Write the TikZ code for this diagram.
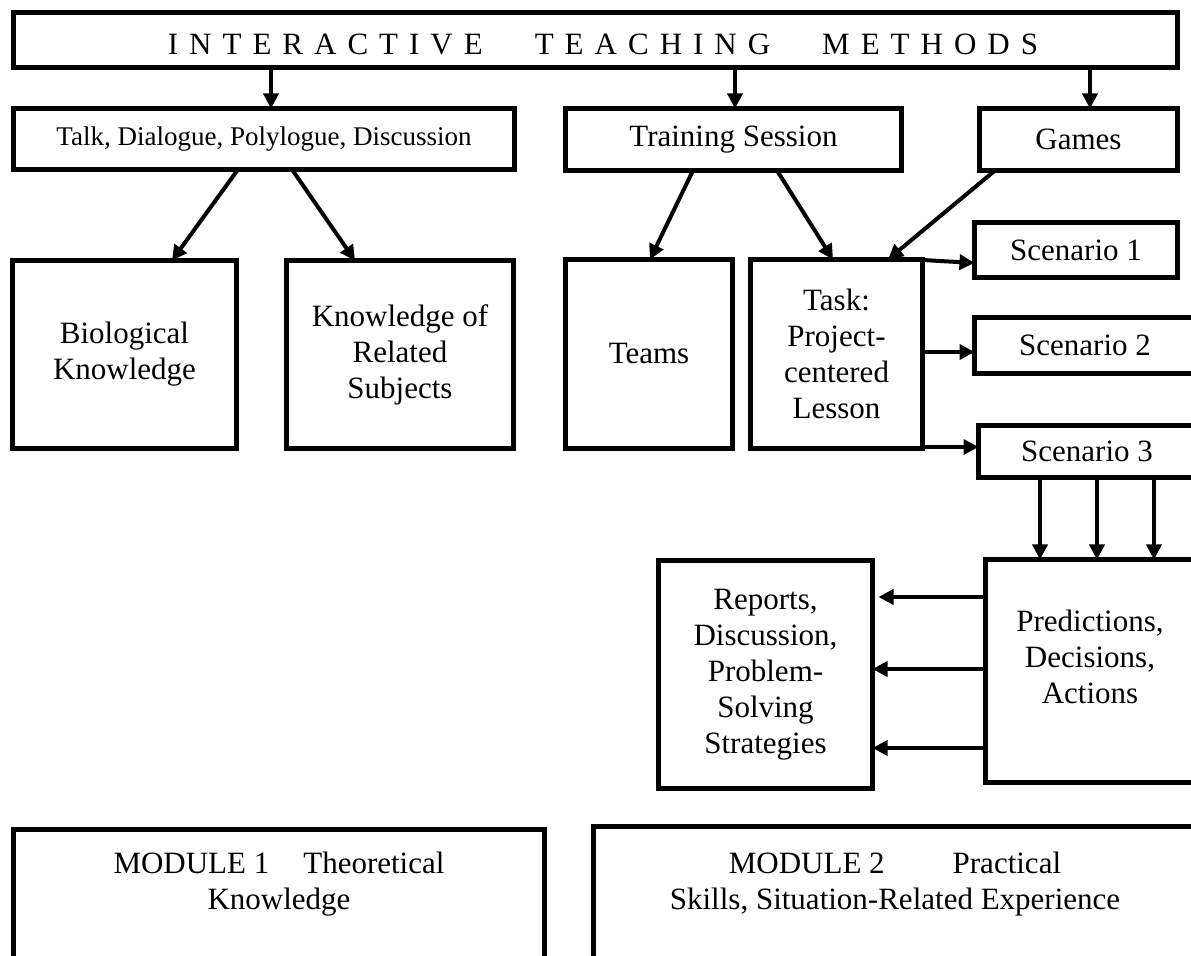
\documentclass[tikz,border=0pt]{standalone}
\usepackage{fontspec}
\setmainfont{Liberation Serif}
\usetikzlibrary{arrows.meta}
\newcommand\mainfs{\fontsize{15.5pt}{18pt}\selectfont}
\newcommand\smallfs{\fontsize{13.5pt}{16pt}\selectfont}
\newcommand\lsp{\hspace{5.5pt}}
\newcommand\wsp{\hspace{26pt}}
\begin{document}
\begin{tikzpicture}[x=0.5pt,y=-0.5pt,
  box/.style={draw, line width=2.5pt, rectangle, inner sep=0pt, outer sep=0pt, align=center, font=\mainfs},
  txt/.style={align=center, font=\mainfs, inner sep=0pt},
  arr/.style={line width=2pt, -{Triangle[length=7.5pt,width=7.5pt]}}
]
\useasboundingbox (0,0) rectangle (1191,956);
\clip (0,0) rectangle (1191,956);

% boxes
\node[box, minimum width=582pt, minimum height=27.5pt] (top) at (595.5,40) {};
\node[txt] (toptext) at (603,44.5) {I\lsp N\lsp T\lsp E\lsp R\lsp A\lsp C\lsp T\lsp I\lsp V\lsp E\wsp T\lsp E\lsp A\lsp C\lsp H\lsp I\lsp N\lsp G\wsp M\lsp E\lsp T\lsp H\lsp O\lsp D\lsp S};

\node[box, font=\smallfs, minimum width=250.5pt, minimum height=30.5pt] (talk) at (264,139) {Talk, Dialogue, Polylogue, Discussion};
\node[box, minimum width=168pt, minimum height=31pt] (train) at (733.5,139.5) {Training Session};
\node[box, minimum width=99pt, minimum height=31pt] (games) at (1078.5,139.5) {Games};

\node[box, minimum width=112pt, minimum height=94pt] (bio) at (124.5,354.5) {Biological\\Knowledge};
\node[box, minimum width=113.5pt, minimum height=94pt] (know) at (400,354.5) {Knowledge of\\Related\\Subjects};
\node[box, minimum width=83.5pt, minimum height=94.5pt] (teams) at (649,354) {Teams};
\node[box, minimum width=86pt, minimum height=94.5pt] (task) at (836.5,354) {Task:\\Project-\\centered\\Lesson};

\node[box, minimum width=101.5pt, minimum height=27.5pt] (sc1) at (1076,250) {Scenario 1};
\node[box, minimum width=110.5pt, minimum height=28pt] (sc2) at (1085,345.5) {Scenario 2};
\node[box, minimum width=108.5pt, minimum height=26pt] (sc3) at (1087,451.5) {Scenario 3};

\node[box, minimum width=104.5pt, minimum height=111.5pt] (pred) at (1090,671) {};
\node[txt] (predtext) at (1090,657) {Predictions,\\Decisions,\\Actions};
\node[box, minimum width=107pt, minimum height=114pt] (reports) at (765.5,674.5) {Reports,\\Discussion,\\Problem-\\Solving\\Strategies};

\node[box, minimum width=265.5pt, minimum height=100pt] (mod1) at (279,930) {};
\node[txt] (mod1text) at (279,884) {MODULE 1\hspace{17pt}Theoretical\\Knowledge};
\node[box, minimum width=301.5pt, minimum height=101.5pt] (mod2) at (895,928.5) {};
\node[txt] (mod2text) at (895,884) {MODULE 2\hspace{34pt}Practical\\Skills, Situation-Related Experience};

% connectors
\draw[arr] (top.south -| 271,0) -- (talk.north -| 271,0);
\draw[arr] (top.south -| 735,0) -- (train.north -| 735,0);
\draw[arr] (top.south -| 1090,0) -- (games.north -| 1090,0);

\draw[arr] (talk.south -| 238,0) -- (bio.north -| 172,0);
\draw[arr] (talk.south -| 292,0) -- (know.north -| 355,0);
\draw[arr] (train.south -| 693,0) -- (teams.north -| 650,0);
\draw[arr] (train.south -| 777,0) -- (task.north -| 833,0);
\draw[arr] (games.south -| 995,0) -- (task.north -| 888,0);

\draw[arr] (task.east |- 0,260) -- (sc1.west |- 0,263);
\draw[arr] (task.east |- 0,352) -- (sc2.west |- 0,352);
\draw[arr] (task.east |- 0,447) -- (sc3.west |- 0,447);

\draw[arr] (sc3.south -| 1040,0) -- (pred.north -| 1040,0);
\draw[arr] (sc3.south -| 1097,0) -- (pred.north -| 1097,0);
\draw[arr] (sc3.south -| 1154,0) -- (pred.north -| 1154,0);

\draw[arr, shorten >=3pt] (pred.west |- 0,597) -- (reports.east |- 0,597);
\draw[arr] (pred.west |- 0,669) -- (reports.east |- 0,669);
\draw[arr] (pred.west |- 0,748) -- (reports.east |- 0,748);
\end{tikzpicture}
\end{document}
